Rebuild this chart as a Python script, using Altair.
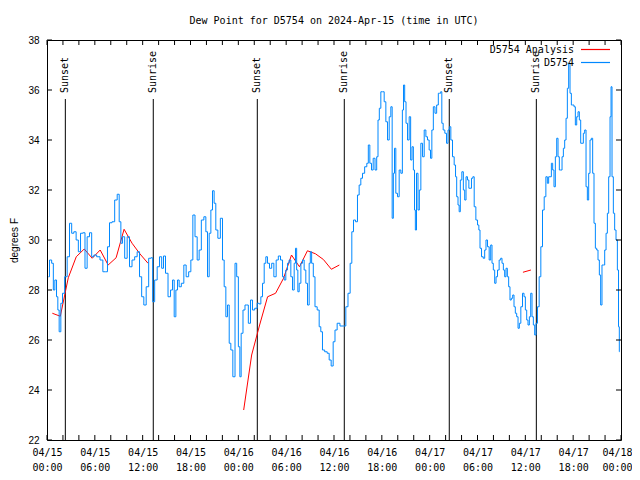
import altair as alt
import pandas as pd

TITLE = "Dew Point for D5754 on 2024-Apr-15 (time in UTC)"
Y_TITLE = "degrees F"
SERIES = ["D5754 Analysis", "D5754"]
COLORS = ["#ff0000", "#0088ff"]
MONO = "DejaVu Sans Mono"
SANS = "Liberation Sans"

START = "2024-04-15T00:00:00Z"
X_SPAN_H = 72
Y_MIN, Y_MAX = 22, 38
Y_TICKS = [22, 24, 26, 28, 30, 32, 34, 36, 38]
X_LABEL_H = list(range(0, 73, 6))
X_TICK_H = list(range(0, 73, 2))

EVENT_H = [2.30, 13.33, 26.38, 37.29, 50.46, 61.38]
EVENT_LABEL = ["Sunset", "Sunrise", "Sunset", "Sunrise", "Sunset", "Sunrise"]

# Analysis (hourly), three separate segments
ANALYSIS_SEG = [1] * 13 + [2] * 13 + [3] * 2
ANALYSIS_H = [0.67, 1.67, 2.67, 3.67, 4.67, 5.67, 6.67, 7.67, 8.67, 9.67, 10.67, 11.67, 12.67,
              24.67, 25.67, 26.67, 27.67, 28.67, 29.67, 30.67, 31.67, 32.67, 33.67, 34.67, 35.67, 36.67,
              59.7, 60.7]
ANALYSIS_V = [27.07, 26.95, 28.49, 29.33, 29.64, 29.27, 29.6, 29.0, 29.29, 30.43, 29.87, 29.44, 29.07,
              23.2, 25.4, 26.6, 27.73, 27.87, 28.47, 29.4, 28.93, 29.57, 29.45, 29.22, 28.83, 29.0,
              28.71, 28.8]

# Station observations
OBS_H = [
    0.17, 0.46, 0.71, 0.88, 1.09, 1.30, 1.42, 1.63, 1.84, 2.05,
    2.38, 2.68, 2.97, 3.22, 3.51, 3.80, 4.06, 4.35, 4.64, 4.89,
    5.18, 5.48, 5.73, 6.02, 6.44, 6.86, 7.15, 7.48, 7.69, 7.99,
    8.32, 8.66, 8.95, 9.16, 9.37, 9.58, 9.91, 10.20, 10.50, 10.83,
    11.16, 11.46, 11.75, 12.00, 12.29, 12.59, 12.92, 13.17, 13.34, 13.67,
    13.97, 14.26, 14.51, 14.72, 15.01, 15.35, 15.64, 15.85, 16.06, 16.27,
    16.47, 16.68, 17.02, 17.31, 17.60, 17.94, 18.15, 18.44, 18.69, 18.98,
    19.19, 19.53, 19.82, 20.03, 20.24, 20.45, 20.66, 20.86, 21.07, 21.28,
    21.58, 21.91, 22.12, 22.33, 22.54, 22.75, 22.96, 23.16, 23.46, 23.71,
    23.88, 24.13, 24.25, 24.46, 24.71, 24.96, 25.13, 25.38, 25.67, 25.88,
    26.22, 26.51,
    26.72, 26.93, 27.14, 27.35, 27.55, 27.76, 28.06, 28.31, 28.60, 28.89,
    29.14, 29.44, 29.65, 29.85, 30.06, 30.27, 30.48, 30.69, 30.90, 31.11,
    31.23, 31.40, 31.53, 31.74, 31.95, 32.15, 32.36, 32.57, 32.78, 32.99,
    33.07, 33.32, 33.49, 33.74, 34.04, 34.24, 34.45, 34.66, 35.00, 35.29,
    35.50, 35.79, 36.00, 36.25, 36.54, 36.96, 37.38, 37.59, 37.92, 38.13,
    38.34, 38.55, 38.84, 39.05, 39.26, 39.47, 39.68, 40.01, 40.22, 40.39,
    40.60, 40.81, 41.02, 41.27, 41.44, 41.60, 41.77, 41.98, 42.19, 42.40,
    42.61, 42.82, 43.03, 43.23, 43.36, 43.53, 43.65, 43.86, 44.07, 44.28,
    44.49, 44.66, 44.78, 44.95, 45.12, 45.33, 45.53, 45.70, 45.87, 46.04,
    46.16, 46.25, 46.45, 46.62, 46.79, 47.00, 47.21, 47.42, 47.63, 47.83,
    48.04, 48.17, 48.38, 48.54, 48.79, 48.96, 49.21,
    49.30, 49.46, 49.59, 49.80, 50.01, 50.22, 50.38, 50.55, 50.76, 50.97,
    51.18, 51.31, 51.47, 51.64, 51.76, 51.93, 52.14, 52.31, 52.48, 52.64,
    52.85, 52.98, 53.14, 53.35, 53.48, 53.69, 53.90, 54.11, 54.23, 54.40,
    54.61, 54.82, 54.98, 55.15, 55.36, 55.57, 55.74, 55.90, 56.07, 56.24,
    56.41, 56.61, 56.82, 56.99, 57.16, 57.33, 57.49, 57.66, 57.83, 57.99,
    58.16, 58.33, 58.50, 58.66, 58.83, 59.00, 59.17, 59.33, 59.54, 59.75,
    59.92, 60.09, 60.25, 60.42, 60.59, 60.76, 60.92, 61.09, 61.26, 61.42,
    61.63, 61.84, 62.05, 62.26, 62.47, 62.68, 62.84, 63.01, 63.18, 63.35,
    63.51, 63.68, 63.85, 64.02, 64.18, 64.35, 64.52, 64.69, 64.85, 65.02,
    65.19, 65.35, 65.52, 65.69, 65.86, 66.02, 66.19, 66.36, 66.53, 66.69,
    66.86, 67.03, 67.19, 67.36, 67.53, 67.70, 67.86, 68.03, 68.20, 68.36,
    68.53, 68.70, 68.87, 69.03, 69.20, 69.37, 69.53, 69.70, 69.87, 70.04,
    70.21, 70.37, 70.54, 70.71, 70.79, 70.96, 71.12, 71.29, 71.46, 71.63,
    71.75, 71.83,
]
OBS_V = [
    28.53, 29.2, 29.07, 28.0, 28.4, 27.73, 27.2, 26.33, 27.47, 27.87,
    28.53, 29.33, 30.67, 30.27, 30.33, 30.0, 29.53, 30.27, 30.29, 28.87,
    30.13, 30.29, 29.33, 29.4, 29.33, 29.2, 28.73, 28.73, 29.73, 30.69,
    30.73, 31.6, 31.83, 30.73, 29.87, 30.13, 29.27, 30.13, 28.93, 29.2,
    29.33, 29.53, 28.53, 27.73, 27.4, 28.13, 29.27, 29.29, 27.53, 28.4,
    28.93, 29.33, 28.87, 29.36, 28.67, 27.73, 28.0, 28.4, 26.93, 28.0,
    28.4, 28.13, 28.27, 29.0, 28.53, 28.73, 29.2, 31.0, 30.13, 29.2,
    29.6, 30.8, 30.93, 30.33, 28.53, 30.27, 31.2, 31.97, 31.47, 30.4,
    30.07, 30.87, 29.2, 28.13, 26.93, 27.4, 25.87, 25.6, 24.53, 29.07,
    28.53, 25.73, 24.53, 26.27, 27.2, 27.4, 27.4, 26.67, 27.6, 27.2,
    27.27, 27.47,
    27.44, 27.73, 28.27, 29.07, 29.33, 29.07, 28.87, 29.07, 28.53, 29.2,
    29.36, 29.2, 28.53, 28.4, 28.8, 29.07, 29.2, 28.53, 28.0, 29.07,
    29.67, 28.8, 27.93, 28.27, 29.07, 29.2, 28.8, 28.27, 27.4, 29.07,
    29.53, 29.07, 28.53, 27.33, 27.2, 26.53, 26.33, 25.6, 25.53, 25.47,
    25.2, 24.96, 25.93, 26.4, 26.67, 26.56, 26.56, 27.33, 27.87, 29.07,
    30.33, 30.8, 30.73, 31.8, 32.2, 32.47, 32.67, 32.93, 33.07, 33.8,
    33.07, 32.8, 33.27, 32.8, 33.33, 34.8, 35.27, 35.93, 35.93, 35.53,
    34.73, 34.0, 34.93, 35.33, 30.87, 32.67, 33.67, 31.87, 31.73, 32.8,
    32.67, 35.2, 36.2, 35.53, 34.67, 34.0, 34.93, 33.2, 33.73, 32.8,
    31.2, 30.4, 32.67, 31.2, 32.0, 33.87, 33.33, 34.4, 34.13, 34.0,
    33.6, 33.27, 34.4, 35.33, 35.07, 35.4, 35.87,
    35.87, 35.93, 34.67, 34.4, 34.27, 33.87, 34.4, 34.53, 34.0, 33.33,
    33.0, 32.53, 31.73, 31.4, 31.13, 32.4, 32.73, 32.0, 31.6, 32.53,
    32.4, 32.07, 32.07, 32.47, 32.53, 31.33, 30.8, 30.6, 30.4, 29.67,
    29.33, 29.27, 29.6, 30.0, 29.73, 29.2, 29.8, 29.07, 28.8, 28.27,
    28.53, 28.8, 29.2, 29.27, 29.07, 28.8, 28.53, 28.87, 28.53, 28.13,
    27.6, 27.67, 27.8, 27.33, 27.07, 26.93, 26.47, 26.67, 27.33, 27.87,
    27.73, 27.2, 26.8, 26.6, 26.93, 27.87, 26.93, 26.6, 26.2, 26.67,
    27.33, 28.53, 29.73, 31.2, 31.73, 32.53, 32.27, 32.53, 32.53, 33.07,
    32.8, 32.13, 33.33, 34.07, 33.33, 32.8, 32.8, 33.33, 33.67, 34.0,
    34.87, 36.07, 37.07, 35.87, 35.4, 35.4, 35.33, 34.6, 34.93, 35.13,
    34.8, 33.87, 33.87, 34.27, 34.4, 32.13, 31.6, 32.67, 34.0, 34.07,
    32.67, 30.67, 29.67, 29.6, 29.2, 28.6, 27.4, 29.0, 29.0, 29.6,
    30.27, 31.07, 32.53, 34.93, 36.13, 32.53, 31.07, 30.4, 30.0, 28.8,
    26.53, 25.53,
]
assert len(OBS_H) == len(OBS_V)
assert len(ANALYSIS_H) == len(ANALYSIS_V) == len(ANALYSIS_SEG)

W, H = 574, 400
BASE_MS = pd.Timestamp(START).value // 10**6
HOUR_MS = 3600 * 1000
END_MS = BASE_MS + X_SPAN_H * HOUR_MS


def to_ms(hours):
    return [int(BASE_MS + h * HOUR_MS) for h in hours]


obs = pd.DataFrame({"t": to_ms(OBS_H), "v": OBS_V})
ana = pd.DataFrame({"t": to_ms(ANALYSIS_H), "v": ANALYSIS_V, "seg": ANALYSIS_SEG})
events = pd.DataFrame({"t": to_ms(EVENT_H), "label": EVENT_LABEL})
xticks = pd.DataFrame({"t": to_ms(X_TICK_H)})
yticks = pd.DataFrame({"v": Y_TICKS})

X = alt.X(
    "t:T",
    scale=alt.Scale(type="utc", domain=[BASE_MS, END_MS]),
    axis=alt.Axis(
        values=to_ms(X_LABEL_H),
        labelExpr="[utcFormat(datum.value, '%m/%d'), utcFormat(datum.value, '%H:%M')]",
        title=None, grid=False, ticks=False, domain=False,
        labelFont=MONO, labelFontSize=10, labelColor="black",
        labelLineHeight=15, labelPadding=7, labelFlush=False, labelOverlap=False,
        labelAlign="center",
        labelOffset={"condition": {"test": f"datum.value >= {END_MS}", "value": -4}, "value": 0},
    ),
)
Y = alt.Y(
    "v:Q",
    scale=alt.Scale(domain=[Y_MIN, Y_MAX], nice=False, zero=False),
    axis=alt.Axis(
        values=Y_TICKS, title=Y_TITLE, grid=False, ticks=False, domain=False,
        labelFont=SANS, labelFontSize=10, labelColor="black", labelPadding=8,
        titleFont=SANS, titleFontSize=10, titleFontWeight="normal", titleColor="black",
        titlePadding=8,
    ),
)

tick_len = 5
bottom_ticks = alt.Chart(xticks).mark_rule(color="black", strokeWidth=1).encode(
    x=X, y=alt.value(H), y2=alt.value(H - tick_len))
top_ticks = alt.Chart(xticks).mark_rule(color="black", strokeWidth=1).encode(
    x=X, y=alt.value(0), y2=alt.value(tick_len))
left_ticks = alt.Chart(yticks).mark_rule(color="black", strokeWidth=1).encode(
    y=Y, x=alt.value(0), x2=alt.value(tick_len))
right_ticks = alt.Chart(yticks).mark_rule(color="black", strokeWidth=1).encode(
    y=Y, x=alt.value(W), x2=alt.value(W - tick_len))

event_lines = alt.Chart(events).mark_rule(color="black", strokeWidth=1).encode(
    x=X, y=alt.value(59), y2=alt.value(H))
event_text = alt.Chart(events).mark_text(
    angle=270, align="left", baseline="middle", font=MONO, fontSize=10, color="black"
).encode(x=X, y=alt.value(53), text="label:N")

obs_line = alt.Chart(obs).mark_line(color=COLORS[1], strokeWidth=1, interpolate="step").encode(
    x=X, y=Y)
ana_line = alt.Chart(ana).mark_line(color=COLORS[0], strokeWidth=1).encode(
    x=X, y=Y, detail="seg:N")

legend_layers = []
for i, (name, col) in enumerate(zip(SERIES, COLORS)):
    yy = 9.5 + 13 * i
    legend_layers.append(
        alt.Chart(pd.DataFrame({"n": [name]})).mark_text(
            align="right", baseline="middle", font=MONO, fontSize=10, color="black"
        ).encode(x=alt.value(527), y=alt.value(yy), text="n:N"))
    legend_layers.append(
        alt.Chart(pd.DataFrame({"n": [name]})).mark_rule(
            color=col, stroke=col, strokeWidth=1.2
        ).encode(x=alt.value(534), x2=alt.value(563), y=alt.value(yy)))

chart = alt.layer(
    event_lines, event_text, ana_line, obs_line,
    bottom_ticks, top_ticks, left_ticks, right_ticks,
    *legend_layers,
).properties(
    width=W, height=H,
    title=alt.TitleParams(TITLE, font=MONO, fontSize=10, fontWeight="normal",
                          anchor="middle", offset=9, color="black"),
    autosize=alt.AutoSizeParams(type="none"),
    padding={"left": 39, "top": 32, "right": 11, "bottom": 34},
    background="white",
).configure_view(stroke="black", strokeWidth=1)

chart.save("out.html", embed_options={"renderer": "svg", "actions": False})
